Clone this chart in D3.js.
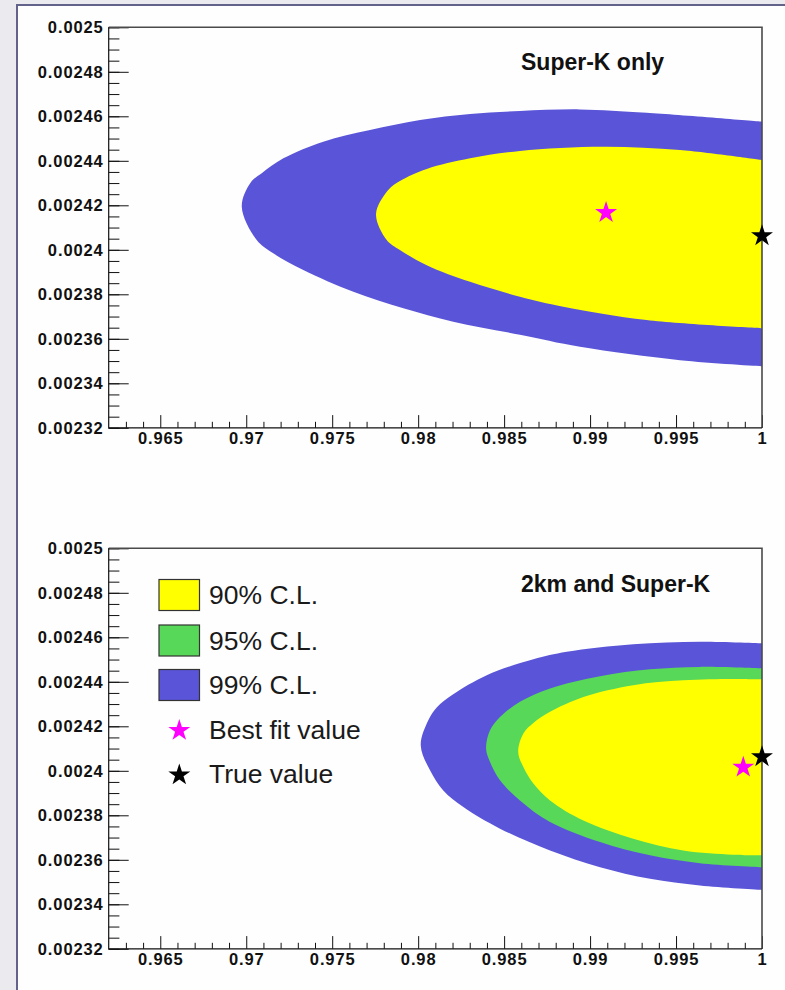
<!DOCTYPE html>
<html>
<head>
<meta charset="utf-8">
<script src="https://cdn.jsdelivr.net/npm/d3@7"></script>
<style>
  body { margin: 0; background: #ebebef; }
  svg { display: block; font-family: "Liberation Sans", Arial, Helvetica, sans-serif; }
</style>
</head>
<body>
<svg id="chart" width="785" height="990"></svg>
<script>
// tick labels
var xTicks = [0.965, 0.97, 0.975, 0.98, 0.985, 0.99, 0.995, 1];
var yTicks = [0.00232, 0.00234, 0.00236, 0.00238, 0.0024, 0.00242, 0.00244, 0.00246, 0.00248, 0.0025];

// Super-K only contours [x, y], from the right edge round the left tip and back
var skOnly99 = [[1.0, 0.0024576], [0.99329, 0.0024616], [0.98941, 0.0024631], [0.98592, 0.0024624], [0.98302, 0.0024610],
  [0.98011, 0.0024583], [0.97720, 0.0024538], [0.97448, 0.0024486], [0.97216, 0.0024411], [0.97090, 0.0024344],
  [0.97026, 0.0024303], [0.96974, 0.0024194], [0.97061, 0.0024044], [0.97157, 0.0023984], [0.97332, 0.0023909],
  [0.97623, 0.0023811], [0.97914, 0.0023737], [0.98204, 0.0023677], [0.98592, 0.0023618], [0.98941, 0.0023564],
  [0.99523, 0.0023504], [1.0, 0.0023477]];
var skOnly90 = [[1.0, 0.0024403], [0.99523, 0.0024448], [0.99077, 0.0024463], [0.98592, 0.0024444], [0.98302, 0.0024411],
  [0.98050, 0.0024363], [0.97894, 0.0024309], [0.97826, 0.0024269], [0.97755, 0.0024161], [0.97817, 0.0024044],
  [0.97894, 0.0023999], [0.98050, 0.0023931], [0.98302, 0.0023856], [0.98592, 0.0023789], [0.98844, 0.0023744],
  [0.99329, 0.0023684], [1.0, 0.0023647]];

// 2km and Super-K contours
var both99 = [[1.0, 0.0024573], [0.99639, 0.0024580], [0.99251, 0.0024569], [0.98864, 0.0024535], [0.98670, 0.0024501],
  [0.98399, 0.0024430], [0.98204, 0.0024344], [0.98108, 0.0024285], [0.98059, 0.0024227], [0.98015, 0.0024115],
  [0.98069, 0.0024002], [0.98146, 0.0023912], [0.98263, 0.0023837], [0.98476, 0.0023740], [0.98767, 0.0023642],
  [0.99058, 0.0023567], [0.99349, 0.0023515], [0.99639, 0.0023485], [1.0, 0.0023465]];
var both95 = [[1.0, 0.0024460], [0.99639, 0.0024467], [0.99349, 0.0024456], [0.99058, 0.0024425], [0.98767, 0.0024370],
  [0.98592, 0.0024310], [0.98476, 0.0024242], [0.98418, 0.0024182], [0.98395, 0.0024100], [0.98418, 0.0024040],
  [0.98476, 0.0023957], [0.98592, 0.0023867], [0.98767, 0.0023770], [0.99058, 0.0023680], [0.99349, 0.0023620],
  [0.99639, 0.0023585], [1.0, 0.0023567]];
var both90 = [[1.0, 0.0024411], [0.99833, 0.0024413], [0.99542, 0.0024407], [0.99251, 0.0024385], [0.98961, 0.0024332],
  [0.98767, 0.0024265], [0.98670, 0.0024215], [0.98612, 0.0024168], [0.98582, 0.0024085], [0.98612, 0.0024017],
  [0.98670, 0.0023943], [0.98767, 0.0023867], [0.98961, 0.0023777], [0.99251, 0.0023695], [0.99542, 0.0023642],
  [0.99833, 0.0023623], [1.0, 0.0023620]];

// markers
var skOnlyBest = [0.99093, 0.0024167];
var bothBest = [0.99891, 0.0024016];
var trueValue = [1.0, 0.0024063];

var legendLabels = ["90% C.L.", "95% C.L.", "99% C.L.", "Best fit value", "True value"];

var colors = { c90: "#ffff00", c95: "#58d858", c99: "#5a55d8", best: "#ff00ff", truth: "#000000" };

var svg = d3.select("#chart");

// white canvas panel with its border
svg.append("rect")
  .attr("x", 17).attr("y", 5)
  .attr("width", 800).attr("height", 1000)
  .attr("fill", "#fefefe")
  .attr("stroke", "#62628a")
  .attr("stroke-width", 2);

var star = d3.symbol(d3.symbolStar).size(150);

function drawPlot(top, title, titleY, regions, best) {
  var left = 108.7, right = 762, bottom = top + 400.5;
  var x = d3.scaleLinear().domain([0.962, 1]).range([left, right]);
  var y = d3.scaleLinear().domain([0.00232, 0.0025]).range([bottom, top]);

  var g = svg.append("g");
  var clipId = "clip" + Math.round(top);
  g.append("clipPath").attr("id", clipId)
    .append("rect").attr("x", left).attr("y", top)
    .attr("width", right - left).attr("height", bottom - top);

  var line = d3.line()
    .x(function (d) { return x(d[0]); })
    .y(function (d) { return y(d[1]); })
    .curve(d3.curveCatmullRom.alpha(0.5));

  g.append("g").attr("clip-path", "url(#" + clipId + ")")
    .selectAll("path")
    .data(regions)
    .enter().append("path")
    .attr("d", function (d) { return line(d.pts) + "Z"; })
    .attr("fill", function (d) { return d.color; });

  // minor ticks
  var minorX = d3.range(0.963, 1.0001, 0.001).filter(function (v) {
    return Math.abs(v * 200 - Math.round(v * 200)) > 1e-6;
  });
  var minorY = d3.range(0.00232, 0.0025001, 0.000005);

  g.append("g")
    .attr("transform", "translate(0," + bottom + ")")
    .call(d3.axisBottom(x).tickValues(minorX).tickSizeInner(-6).tickSizeOuter(0).tickFormat(""))
    .call(function (a) { a.select(".domain").remove(); });
  g.append("g")
    .attr("transform", "translate(" + left + ",0)")
    .call(d3.axisLeft(y).tickValues(minorY).tickSizeInner(-10.7).tickSizeOuter(0).tickFormat(""))
    .call(function (a) { a.select(".domain").remove(); });

  // major ticks with labels
  var xa = g.append("g")
    .attr("transform", "translate(0," + bottom + ")")
    .call(d3.axisBottom(x).tickValues(xTicks).tickSizeInner(-12.7).tickSizeOuter(0).tickPadding(4)
      .tickFormat(function (d) { return String(+d.toFixed(3)); }));
  xa.select(".domain").remove();
  xa.selectAll("text").attr("font-size", 16.5).attr("font-weight", "bold")
    .attr("letter-spacing", 0.9).attr("fill", "#111").attr("y", 16.5).attr("dy", 0)
    .attr("font-family", "Liberation Sans, Arial, sans-serif");

  var ya = g.append("g")
    .attr("transform", "translate(" + left + ",0)")
    .call(d3.axisLeft(y).tickValues(yTicks).tickSizeInner(-20).tickSizeOuter(0).tickPadding(5)
      .tickFormat(function (d) { return String(+d.toFixed(5)); }));
  ya.select(".domain").remove();
  ya.selectAll("text").attr("font-size", 16.5).attr("font-weight", "bold")
    .attr("letter-spacing", 0.9).attr("fill", "#111")
    .attr("font-family", "Liberation Sans, Arial, sans-serif");

  g.selectAll(".tick line").attr("stroke", "#111");

  // frame
  g.append("path")
    .attr("d", "M" + right + "," + bottom + "V" + top + "H" + left)
    .attr("fill", "none").attr("stroke", "#4a4a4a").attr("stroke-width", 1.6);
  g.append("path")
    .attr("d", "M" + left + "," + top + "V" + bottom + "H" + right)
    .attr("fill", "none").attr("stroke", "#111").attr("stroke-width", 1.2);

  // markers
  g.append("path").attr("d", star)
    .attr("transform", "translate(" + x(best[0]) + "," + y(best[1]) + ")")
    .attr("fill", colors.best);
  g.append("path").attr("d", star)
    .attr("transform", "translate(" + x(trueValue[0]) + "," + y(trueValue[1]) + ")")
    .attr("fill", colors.truth);

  g.append("text")
    .attr("x", 521).attr("y", titleY)
    .attr("font-size", 23).attr("font-weight", "bold").attr("fill", "#111")
    .text(title);
}

drawPlot(27.3, "Super-K only", 70,
  [{ pts: skOnly99, color: colors.c99 }, { pts: skOnly90, color: colors.c90 }], skOnlyBest);

drawPlot(548.3, "2km and Super-K", 592.3,
  [{ pts: both99, color: colors.c99 }, { pts: both95, color: colors.c95 }, { pts: both90, color: colors.c90 }], bothBest);

// legend
var legendKinds = ["c90", "c95", "c99", "best", "truth"];
var legendRowY = [595, 640.5, 685, 729.5, 774];
var lg = svg.append("g");
legendKinds.forEach(function (k, i) {
  var cy = legendRowY[i];
  if (k === "best" || k === "truth") {
    lg.append("path").attr("d", star)
      .attr("transform", "translate(179.3," + (cy + 1) + ")")
      .attr("fill", colors[k]);
  } else {
    lg.append("rect")
      .attr("x", 159).attr("y", cy - 15.5)
      .attr("width", 40.5).attr("height", 31)
      .attr("fill", colors[k]).attr("stroke", "#333").attr("stroke-width", 1.2);
  }
  lg.append("text")
    .attr("x", 209).attr("y", cy + 9)
    .attr("font-size", 26.5).attr("fill", "#1a1a1a")
    .text(legendLabels[i]);
});
</script>
</body>
</html>
